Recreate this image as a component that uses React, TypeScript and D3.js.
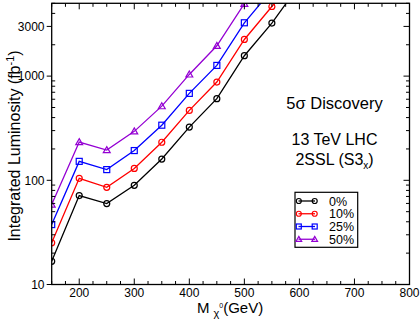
import React from "react";
import * as d3 from "d3";

const masses = [150, 200, 250, 300, 350, 400, 450, 500, 550, 600];
const lum0 = [16.7, 71.3, 59.8, 89.5, 160, 324, 607, 1570, 3230, 7500];
const lum10 = [25.1, 104.5, 85.7, 130, 232, 469, 877, 2248, 4660, 9500];
const lum25 = [37.6, 152, 126.7, 193, 338, 683, 1267, 3251, 6700, 14000];
const lum50 = [58.5, 233, 195, 295, 515, 1038, 1955, 4950, 10000, 20000];
const seriesNames = ["0%", "10%", "25%", "50%"];
const seriesColors = ["#000000", "#ff0000", "#0000ff", "#9400d3"];
const seriesMarkers = ["circle", "circle", "square", "triangle"];
const xTickLabels = [200, 300, 400, 500, 600, 700, 800];
const yTickLabels = [10, 100, 1000, 3000];

const FONT = "'Liberation Sans', Arial, Helvetica, sans-serif";

function Marker({ kind, cx, cy, color, s }: { kind: string; cx: number; cy: number; color: string; s: number }) {
  if (kind === "circle") return <circle cx={cx} cy={cy} r={s} fill="none" stroke={color} strokeWidth={1.2} />;
  if (kind === "square")
    return <rect x={cx - s} y={cy - s} width={2 * s} height={2 * s} fill="none" stroke={color} strokeWidth={1.2} />;
  const h = s * 1.15;
  return (
    <path
      d={`M${cx},${cy - h} L${cx + h},${cy + h * 0.75} L${cx - h},${cy + h * 0.75} Z`}
      fill="none"
      stroke={color}
      strokeWidth={1.2}
    />
  );
}

export default function App() {
  const L = 51.7, R = 409.5, T = 3.3, B = 284.5;
  const x = d3.scaleLinear().domain([150, 800]).range([L, R]);
  const y = d3.scaleLog().domain([10, 5000]).range([B, T]);
  const series = [lum0, lum10, lum25, lum50];
  const line = d3
    .line<number>()
    .x((_, i) => x(masses[i]))
    .y((d) => y(d));

  const xMinor = d3.range(150, 801, 25).filter((v) => v % 100 !== 0);
  const yMinor: number[] = [];
  [10, 100, 1000].forEach((dec) => {
    for (let k = 2; k <= 9; k++) if (dec * k <= 5000 && dec * k !== 3000) yMinor.push(dec * k);
  });

  return (
    <svg width={420} height={321} style={{ position: "absolute", left: 0, top: 0, background: "#fff" }} fontFamily={FONT}>
      <defs>
        <clipPath id="plotclip">
          <rect x={L} y={T} width={R - L} height={B - T} />
        </clipPath>
      </defs>
      <rect x={0} y={0} width={420} height={321} fill="#fff" />

      <g clipPath="url(#plotclip)">
        {series.map((s, si) => (
          <g key={si}>
            <path d={line(s) || ""} fill="none" stroke={seriesColors[si]} strokeWidth={1.3} />
            {s.map((v, i) => (
              <Marker key={i} kind={seriesMarkers[si]} cx={x(masses[i])} cy={y(v)} color={seriesColors[si]} s={3} />
            ))}
          </g>
        ))}
      </g>

      {/* frame */}
      <rect x={L} y={T} width={R - L} height={B - T} fill="none" stroke="#000" strokeWidth={1.3} />

      {/* x ticks bottom & top */}
      {xTickLabels.map((v) => (
        <g key={"xt" + v}>
          <line x1={x(v)} x2={x(v)} y1={B} y2={B - 6} stroke="#000" strokeWidth={1} />
          <line x1={x(v)} x2={x(v)} y1={T} y2={T + 6} stroke="#000" strokeWidth={1} />
          <text x={x(v)} y={296.7} textAnchor="middle" fontSize={12}>
            {v}
          </text>
        </g>
      ))}
      {xMinor.map((v) => (
        <g key={"xm" + v}>
          <line x1={x(v)} x2={x(v)} y1={B} y2={B - 3.5} stroke="#000" strokeWidth={1} />
          <line x1={x(v)} x2={x(v)} y1={T} y2={T + 3.5} stroke="#000" strokeWidth={1} />
        </g>
      ))}

      {/* y ticks */}
      {yTickLabels.map((v) => (
        <g key={"yt" + v}>
          <line x1={L - 5} x2={L} y1={y(v)} y2={y(v)} stroke="#000" strokeWidth={1} />
          <line x1={R} x2={R - 6} y1={y(v)} y2={y(v)} stroke="#000" strokeWidth={1} />
          <text x={44.5} y={y(v)} dy="0.35em" textAnchor="end" fontSize={12}>
            {v}
          </text>
        </g>
      ))}
      {yMinor.map((v) => (
        <g key={"ym" + v}>
          <line x1={L} x2={L + 3.5} y1={y(v)} y2={y(v)} stroke="#000" strokeWidth={1} />
          <line x1={R} x2={R - 3.5} y1={y(v)} y2={y(v)} stroke="#000" strokeWidth={1} />
        </g>
      ))}

      {/* axis titles */}
      <text transform="translate(19.5,146) rotate(-90)" textAnchor="middle" fontSize={16}>
        Integrated Luminosity (fb
        <tspan fontSize={11} dy={-6}>
          -1
        </tspan>
        <tspan dy={6}>)</tspan>
      </text>
      <text x={197} y={313.3} fontSize={15}>
        M
        <tspan dx={4} fontSize={11} dy={4}>
          χ
        </tspan>
        <tspan fontSize={7} dy={-9}>
          0
        </tspan>
        <tspan fontSize={15} dy={5}>
          (GeV)
        </tspan>
      </text>

      {/* annotations */}
      <text x={334.5} y={109} textAnchor="middle" fontSize={16.5}>
        5σ Discovery
      </text>
      <text x={334.5} y={144.5} textAnchor="middle" fontSize={16}>
        13 TeV LHC
      </text>
      <text x={334.5} y={165} textAnchor="middle" fontSize={16}>
        2SSL (S3
        <tspan fontSize={10} dy={4}>
          x
        </tspan>
        <tspan dy={-4}>)</tspan>
      </text>

      {/* legend */}
      <rect x={295} y={192.3} width={62.7} height={55} fill="#fff" stroke="#000" strokeWidth={1.2} />
      {seriesNames.map((n, i) => {
        const ly = 201 + i * 12.75;
        return (
          <g key={n}>
            <line x1={298.5} x2={315} y1={ly} y2={ly} stroke={seriesColors[i]} strokeWidth={1.3} />
            <Marker kind={seriesMarkers[i]} cx={298.8} cy={ly} color={seriesColors[i]} s={2.5} />
            <Marker kind={seriesMarkers[i]} cx={314.7} cy={ly} color={seriesColors[i]} s={2.5} />
            <text x={329} y={ly} dy="0.36em" fontSize={12.5}>
              {n}
            </text>
          </g>
        );
      })}
    </svg>
  );
}
